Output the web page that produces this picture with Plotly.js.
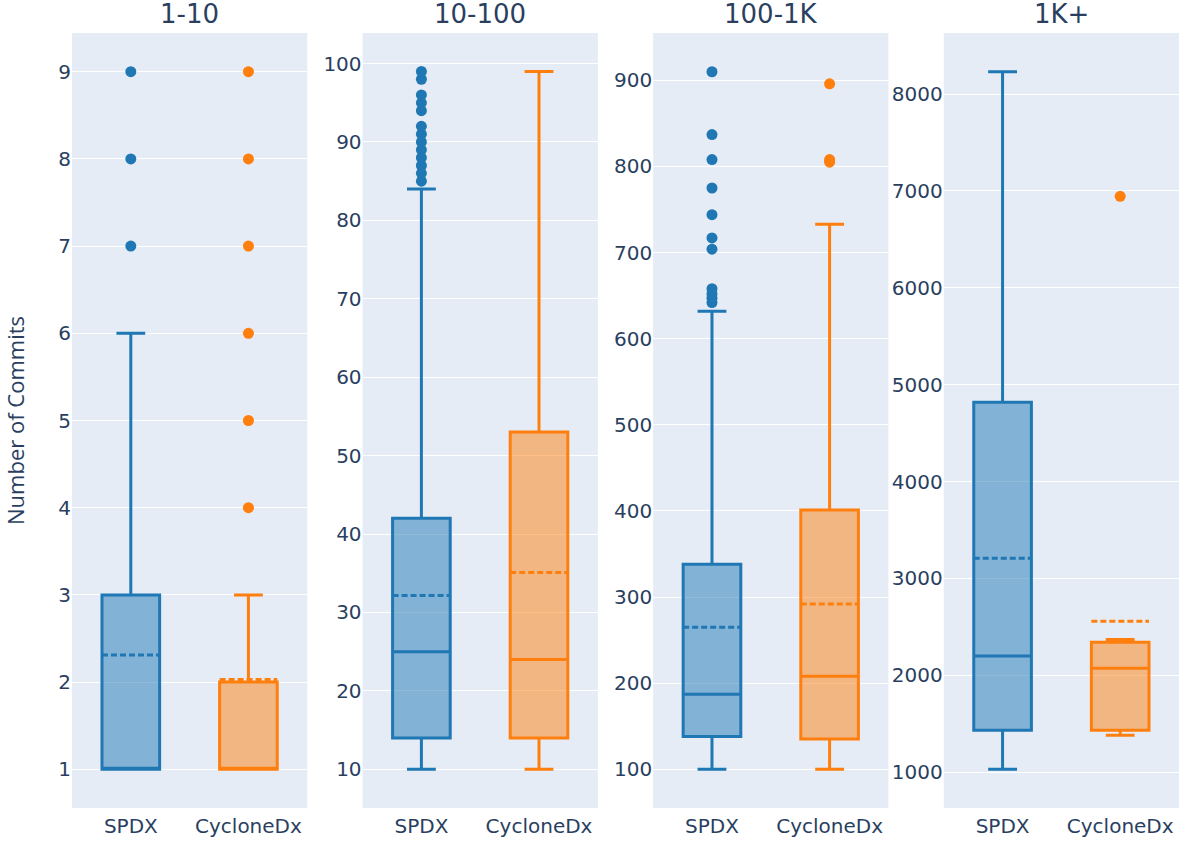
<!DOCTYPE html>
<html>
<head>
<meta charset="utf-8">
<script src="https://cdn.plot.ly/plotly-3.0.1.min.js"></script>
<style>html,body{margin:0;padding:0;background:#fff;}#chart{width:1196px;height:854px;}</style>
</head>
<body>
<div id="chart"></div>
<script>
// Panels (commit-count buckets) and tools
const panels = ["1-10", "10-100", "100-1K", "1K+"];
const tools = ["SPDX", "CycloneDx"];

// Precomputed box statistics per panel: [SPDX, CycloneDx]
const lowerFence = [[1, 1], [10, 10], [100, 100], [1030, 1382]];
const q1Values   = [[1, 1], [14, 14], [138, 135], [1433, 1433]];
const medians    = [[1, 1], [25, 24], [187, 208], [2200, 2073]];
const q3Values   = [[3, 2], [42, 53], [338, 401], [4818, 2342]];
const upperFence = [[6, 3], [84, 99], [632, 733], [8230, 2370]];
const means      = [[2.31, 2.03], [32.15, 35.08], [265, 292], [3208, 2558]];

// Outliers per panel: [SPDX, CycloneDx]
const outliers = [
  [[7, 8, 9], [4, 5, 6, 7, 8, 9]],
  [[85, 86, 87, 88, 89, 90, 91, 92, 94, 95, 96, 98, 99], []],
  [[642, 647, 652, 658, 704, 717, 744, 775, 808, 837, 910], [805, 808, 896]],
  [[], [6944]]
];

const dticks = [1, 10, 100, 1000];
const yRanges = [[0.556, 9.444], [5.06, 103.9], [55, 955], [630, 8630]];
const colors = ["#1f77b4", "#ff7f0e"];

const tickFont = {family: "DejaVu Sans, Verdana, sans-serif", size: 20, color: "#2a3f5f"};
const traces = [];
const layout = {
  width: 1196, height: 854,
  margin: {l: 72, r: 17, t: 33, b: 46},
  paper_bgcolor: "#ffffff",
  plot_bgcolor: "#E5ECF6",
  showlegend: false,
  font: tickFont,
  annotations: []
};

const w = (1 - 3 * 0.05) / 4;
panels.forEach((p, i) => {
  const sfx = i === 0 ? "" : String(i + 1);
  const xa = "x" + sfx, ya = "y" + sfx;
  const d0 = i * (w + 0.05), d1 = d0 + w;
  tools.forEach((t, j) => {
    traces.push({
      type: "box", name: t, x: [t],
      xaxis: xa, yaxis: ya,
      lowerfence: [lowerFence[i][j]], q1: [q1Values[i][j]], median: [medians[i][j]],
      q3: [q3Values[i][j]], upperfence: [upperFence[i][j]], mean: [means[i][j]],
      boxmean: true,
      marker: {color: colors[j]},
      line: {color: colors[j], width: 3},
      showlegend: false
    });
  });
  tools.forEach((t, j) => {
    const ys = outliers[i][j];
    if (!ys.length) return;
    traces.push({
      type: "scatter", mode: "markers",
      x: ys.map(() => t), y: ys,
      xaxis: xa, yaxis: ya,
      marker: {color: colors[j], size: 11},
      showlegend: false, hoverinfo: "y"
    });
  });
  layout["xaxis" + sfx] = {
    domain: [d0, d1], anchor: ya,
    type: "category", categoryorder: "array", categoryarray: tools,
    showgrid: false, linecolor: "#ffffff",
    tickfont: tickFont, ticks: "", automargin: false
  };
  layout["yaxis" + sfx] = {
    anchor: xa, dtick: dticks[i], range: yRanges[i], autorange: false,
    gridcolor: "#ffffff", gridwidth: 1, zeroline: false,
    tickfont: tickFont, ticks: "", automargin: false
  };
  layout.annotations.push({
    text: p, xref: "paper", yref: "paper",
    x: (d0 + d1) / 2, y: 1, xanchor: "center", yanchor: "bottom",
    yshift: 2, showarrow: false,
    font: {family: "DejaVu Sans, Verdana, sans-serif", size: 26, color: "#2a3f5f"}
  });
});
layout.yaxis.title = {text: "Number of Commits", standoff: 28,
  font: {family: "Open Sans, sans-serif", size: 22, color: "#2a3f5f"}};

Plotly.newPlot("chart", traces, layout, {displayModeBar: false, staticPlot: true});
</script>
</body>
</html>
